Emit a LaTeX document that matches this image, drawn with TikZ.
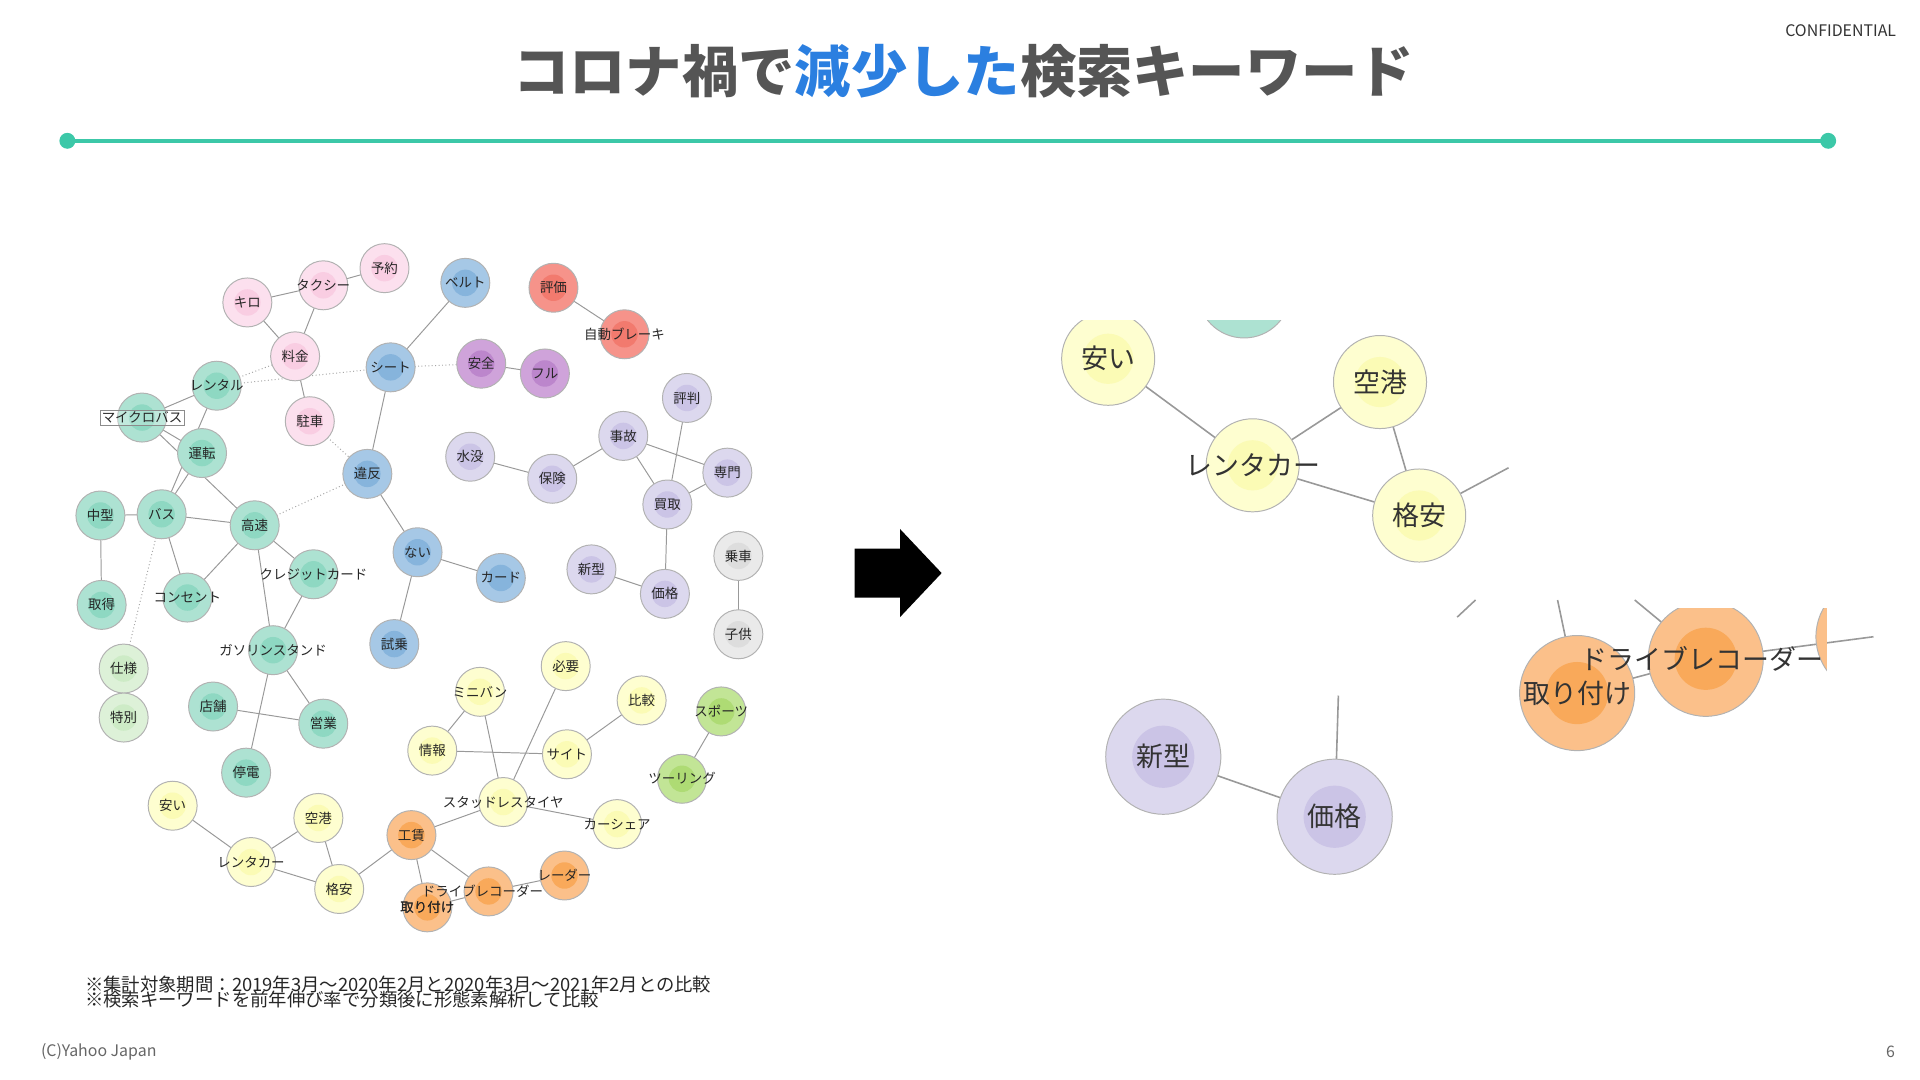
\documentclass[tikz,border=0pt]{standalone}
\usepackage{fontspec}
\setmainfont{Noto Sans CJK JP}
\usetikzlibrary{backgrounds}
\definecolor{pinkO}{HTML}{FCE0EE}\definecolor{pinkI}{HTML}{F9CDE2}
\definecolor{blueO}{HTML}{A6C8E6}\definecolor{blueI}{HTML}{86B4DC}
\definecolor{purO}{HTML}{CFA3DA}\definecolor{purI}{HTML}{BC86CC}
\definecolor{redO}{HTML}{F6938A}\definecolor{redI}{HTML}{F27A6E}
\definecolor{lavO}{HTML}{DCD8EE}\definecolor{lavI}{HTML}{CBC4E6}
\definecolor{tealO}{HTML}{ADE2D2}\definecolor{tealI}{HTML}{8ED8C2}
\definecolor{lgO}{HTML}{DDF1D8}\definecolor{lgI}{HTML}{CDEBC6}
\definecolor{yelO}{HTML}{FEFED0}\definecolor{yelI}{HTML}{FBFBB5}
\definecolor{orO}{HTML}{FBC08A}\definecolor{orI}{HTML}{F9A95A}
\definecolor{grO}{HTML}{EAEAEA}\definecolor{grI}{HTML}{DDDDDD}
\definecolor{limO}{HTML}{C2E596}\definecolor{limI}{HTML}{AEDB74}
\definecolor{titlegray}{HTML}{555555}\definecolor{titleblue}{HTML}{2B7FE0}
\definecolor{lineteal}{HTML}{3CC8A8}
\tikzset{
 nd/.style n args={3}{circle,minimum size=#3,inner sep=0pt,draw=black!30,line width=0.8pt,fill=#1,
   path picture={\fill[#2] (path picture bounding box.center) circle (#3*0.27);}},
 s/.style={nd={#1O}{#1I}{40pt}},
 L/.style={nd={#1O}{#1I}{76pt}},
 XL/.style={nd={#1O}{#1I}{94pt}},
 lab/.style={font=\fontsize{11}{11}\selectfont,text=black!85,inner sep=0pt},
 labL/.style={font=\fontsize{22}{22}\selectfont,text=black!80,inner sep=0pt},
 ed/.style={draw=black!40,line width=0.8pt},
 dt/.style={draw=black!35,line width=0.8pt,dotted},
}
\begin{document}
\begin{tikzpicture}[x=1pt,y=-1pt]
\useasboundingbox (0,0) rectangle (1568,882);
% header
\node[font=\fontsize{46}{46}\selectfont\bfseries,text=titlegray] (title) at (787,58) {コロナ禍で\textcolor{titleblue}{減少した}検索キーワード};
\node[font=\fontsize{13}{13}\selectfont,text=black!80,anchor=east] (conf) at (1552,25) {CONFIDENTIAL};
\coordinate (la) at (55,115); \coordinate (lb) at (1493,115);
\draw[lineteal,line width=3.5pt] (la) -- (lb);
\fill[lineteal] (la) circle (6.5); \fill[lineteal] (lb) circle (6.5);
% nodes left
\newcommand\kw[4]{\node[s=#1,label={[lab]center:#4}] (#2) at #3 {};}
\kw{pink}{kiro}{(202,247)}{キロ}
\kw{pink}{taxi}{(264,233)}{タクシー}
\kw{pink}{yoyaku}{(314,219)}{予約}
\kw{pink}{ryokin}{(241,291)}{料金}
\kw{pink}{chusha}{(253,344)}{駐車}
\kw{blue}{belt}{(380,231)}{ベルト}
\kw{blue}{seat}{(319,300)}{シート}
\kw{blue}{ihan}{(300,387)}{違反}
\kw{blue}{nai}{(341,451)}{ない}
\kw{blue}{card}{(409,472)}{カード}
\kw{blue}{shijo}{(322,526)}{試乗}
\kw{pur}{anzen}{(393,297)}{安全}
\kw{pur}{full}{(445,305)}{フル}
\kw{red}{hyoka}{(452,235)}{評価}
\node[s=red] (brake) at (510,273) {}; \node[lab] (brakel) at (510,273) {自動ブレーキ};
\kw{lav}{hyoban}{(561,325)}{評判}
\kw{lav}{jiko}{(509,356)}{事故}
\kw{lav}{suibotsu}{(384,373)}{水没}
\kw{lav}{hoken}{(451,391)}{保険}
\kw{lav}{senmon}{(594,386)}{専門}
\kw{lav}{kaitori}{(545,412)}{買取}
\kw{lav}{shingata}{(483,465)}{新型}
\kw{lav}{kakaku}{(543,485)}{価格}
\kw{gr}{josha}{(603,454)}{乗車}
\kw{gr}{kodomo}{(603,518)}{子供}
\kw{teal}{rental}{(177,315)}{レンタル}
\node[s=teal] (micro) at (116,341) {}; \node[lab,draw=black!45,line width=0.6pt,inner sep=1.5pt,fill=white,fill opacity=0.25,text opacity=1] (microl) at (116,341) {マイクロバス};
\kw{teal}{unten}{(165,370)}{運転}
\kw{teal}{chugata}{(82,421)}{中型}
\kw{teal}{bus}{(132,420)}{バス}
\kw{teal}{kosoku}{(208,429)}{高速}
\kw{teal}{shutoku}{(83,494)}{取得}
\kw{teal}{consent}{(153,488)}{コンセント}
\node[s=teal] (credit) at (256,469) {}; \node[lab] (creditl) at (256,469) {クレジットカード};
\node[s=teal] (gas) at (223,531) {}; \node[lab] (gasl) at (223,531) {ガソリンスタンド};
\kw{teal}{tenpo}{(174,577)}{店舗}
\kw{teal}{eigyo}{(264,591)}{営業}
\kw{teal}{teiden}{(201,631)}{停電}
\kw{lg}{shiyo}{(101,546)}{仕様}
\kw{lg}{tokubetsu}{(101,586)}{特別}
\kw{yel}{hitsuyo}{(462,544)}{必要}
\kw{yel}{miniban}{(392,565)}{ミニバン}
\kw{yel}{hikaku}{(524,572)}{比較}
\kw{yel}{joho}{(353,613)}{情報}
\kw{yel}{site}{(463,616)}{サイト}
\node[s=yel] (studless) at (411,655) {}; \node[lab] (studlessl) at (411,655) {スタッドレスタイヤ};
\kw{yel}{carshare}{(504,673)}{カーシェア}
\kw{yel}{yasui}{(141,658)}{安い}
\kw{yel}{kuko}{(260,668)}{空港}
\kw{yel}{rentacar}{(205,704)}{レンタカー}
\kw{yel}{kakuyasu}{(277,726)}{格安}
\kw{lim}{sports}{(589,581)}{スポーツ}
\kw{lim}{touring}{(557,636)}{ツーリング}
\kw{or}{kochin}{(336,682)}{工賃}
\kw{or}{radar}{(461,715)}{レーダー}
\kw{or}{toritsuke}{(349,741)}{取り付け}
\node[s=or] (drec) at (399,728) {}; \node[lab] (drecl) at (394,728) {ドライブレコーダー};
\node[lab] (toritsukel2) at (349,741) {取り付け};
\begin{scope}[on background layer]
\foreach \a/\b in {kiro/taxi,taxi/yoyaku,kiro/ryokin,taxi/ryokin,ryokin/chusha,belt/seat,seat/ihan,ihan/nai,nai/card,nai/shijo,anzen/full,hyoka/brake,hyoban/kaitori,jiko/hoken,suibotsu/hoken,jiko/senmon,jiko/kaitori,senmon/kaitori,kaitori/kakaku,shingata/kakaku,josha/kodomo,rental/micro,rental/bus,micro/unten,micro/kosoku,unten/bus,chugata/bus,chugata/shutoku,bus/kosoku,bus/consent,kosoku/consent,kosoku/credit,kosoku/gas,credit/gas,gas/eigyo,gas/teiden,tenpo/eigyo,shiyo/tokubetsu,miniban/joho,miniban/studless,hitsuyo/studless,hikaku/site,joho/site,studless/carshare,studless/kochin,yasui/rentacar,kuko/rentacar,rentacar/kakuyasu,kuko/kakuyasu,kakuyasu/kochin,kochin/toritsuke,kochin/drec,drec/radar,toritsuke/drec,sports/touring}
  \draw[ed] (\a.center) -- (\b.center);
\foreach \a/\b in {rental/ryokin,rental/seat,seat/anzen,chusha/ihan,kosoku/ihan,bus/shiyo}
  \draw[dt] (\a.center) -- (\b.center);
\end{scope}
% arrow
\fill[black] (698,448) -- (735,448) -- (735,432) -- (769,468) -- (735,504) -- (735,488) -- (698,488) -- cycle;
\node[inner sep=0] (arrow) at (733,468) {};
% right panel: top yellow group
\begin{scope}
\clip (858,262) rectangle (1228,470);
\node[L=teal] (rteal) at (1016,238) {};
\node[L=yel,label={[labL]center:安い}] (ryasui) at (905,293) {};
\node[L=yel,label={[labL]center:空港}] (rkuko) at (1127,312) {};
\node[L=yel] (rrent) at (1023,380) {};
\node[L=yel,label={[labL]center:格安}] (rkaku) at (1159,421) {};
\node[labL] (rrentl) at (1023,380) {レンタカー};
\coordinate (rkx) at (1232,382);
\begin{scope}[on background layer]
\draw[ed,line width=1.3pt] (ryasui.center) -- (rrent.center) -- (rkuko.center) -- (rkaku.center) -- (rrent.center);
\draw[ed,line width=1.3pt] (rkaku.center) -- (rkx);
\end{scope}
\end{scope}
% right panel: purple
\coordinate (rkkx) at (1093,568);
\node[XL=lav,label={[labL]center:新型}] (rshin) at (950,618) {};
\node[XL=lav,label={[labL]center:価格}] (rkak) at (1090,667) {};
\begin{scope}[on background layer]
\draw[ed,line width=1.3pt] (rshin.center) -- (rkak.center);
\draw[ed,line width=1.3pt] (rkak.center) -- (rkkx);
\end{scope}
% right panel: orange
\begin{scope}
\clip (1188,497) rectangle (1492,640);
\node[XL=or] (rrad) at (1530,520) {};
\node[XL=or] (rtori) at (1288,566) {};
\node[XL=or] (rdrec) at (1393,538) {};
\node[labL] (rdrecl) at (1390,538) {ドライブレコーダー};
\node[labL] (rtoril) at (1288,566) {取り付け};
\coordinate (rt1) at (1272,490); \coordinate (rd1) at (1335,490); \coordinate (rf1) at (1205,490); \coordinate (rf2) at (1190,504);
\begin{scope}[on background layer]
\draw[ed,line width=1.3pt] (rtori.center) -- (rt1);
\draw[ed,line width=1.3pt] (rdrec.center) -- (rd1);
\draw[ed,line width=1.3pt] (rtori.center) -- (rdrec.center) -- (rrad.center);
\draw[ed,line width=1.3pt] (rf1) -- (rf2);
\end{scope}
\end{scope}
% footer
\node[font=\fontsize{15}{15}\selectfont,anchor=west,align=left,text=black!85] (notes) at (66,810) {※集計対象期間：2019年3月〜2020年2月と2020年3月〜2021年2月との比較\\[-3pt]※検索キーワードを前年伸び率で分類後に形態素解析して比較};
\node[font=\fontsize{13}{13}\selectfont,anchor=west,text=black!60] (copy) at (30,859) {(C)Yahoo Japan};
\node[font=\fontsize{13}{13}\selectfont,anchor=east,text=black!60] (page) at (1551,859) {6};
\end{tikzpicture}
\end{document}
